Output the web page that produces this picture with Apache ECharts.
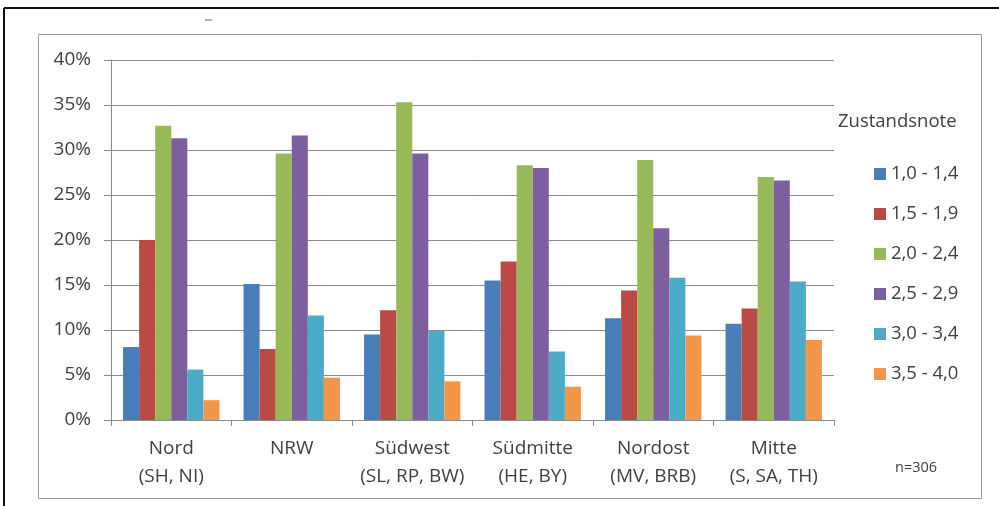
<!DOCTYPE html>
<html>
<head>
<meta charset="utf-8">
<script src="https://cdn.jsdelivr.net/npm/echarts@6/dist/echarts.min.js"></script>
<style>
  html, body { margin: 0; padding: 0; background: #ffffff; }
  #chart { width: 999px; height: 506px; }
</style>
</head>
<body>
<div id="chart"></div>
<script>
// Regions (with federal states) on the x axis
const regions = [
  'Nord\n(SH, NI)',
  'NRW',
  'Südwest\n(SL, RP, BW)',
  'Südmitte\n(HE, BY)',
  'Nordost\n(MV, BRB)',
  'Mitte\n(S, SA, TH)'
];

// Condition grade classes (legend entries)
const grades = ['1,0 - 1,4', '1,5 - 1,9', '2,0 - 2,4', '2,5 - 2,9', '3,0 - 3,4', '3,5 - 4,0'];

// Share of roads per grade class, in percent, one value per region
const grade10to14 = [8.1, 15.1, 9.5, 15.5, 11.3, 10.7];
const grade15to19 = [20.0, 7.9, 12.2, 17.6, 14.4, 12.4];
const grade20to24 = [32.7, 29.6, 35.3, 28.3, 28.9, 27.0];
const grade25to29 = [31.3, 31.6, 29.6, 28.0, 21.3, 26.6];
const grade30to34 = [5.6, 11.6, 9.9, 7.6, 15.8, 15.4];
const grade35to40 = [2.2, 4.7, 4.3, 3.7, 9.4, 8.9];

// Y axis ticks (percent)
const yMin = 0, yMax = 40, yStep = 5;

const seriesValues = [grade10to14, grade15to19, grade20to24, grade25to29, grade30to34, grade35to40];
const colors = ['#4A7EB8', '#BA4A46', '#97BA59', '#7D5FA0', '#4BABC6', '#F49649'];

const font = '"Open Sans", "DejaVu Sans", sans-serif';
const textColor = '#404040';
const gridColor = '#8c8c8c';

const chart = echarts.init(document.getElementById('chart'), null, { renderer: 'canvas' });

chart.setOption({
  animation: false,
  backgroundColor: '#ffffff',
  color: colors,
  textStyle: { fontFamily: font, color: textColor },
  grid: { left: 111, right: 165, top: 60, bottom: 86, containLabel: false },
  legend: {
    data: grades,
    orient: 'vertical',
    left: 869,
    top: 159,
    itemWidth: 12,
    itemHeight: 12,
    itemGap: 20,
    icon: 'rect',
    selectedMode: false,
    textStyle: { fontFamily: font, fontSize: 18.5, color: textColor, lineHeight: 20 }
  },
  xAxis: {
    type: 'category',
    data: regions,
    axisLine: { show: true, lineStyle: { color: gridColor, width: 1 } },
    axisTick: { show: true, length: 6, lineStyle: { color: gridColor } },
    axisLabel: {
      interval: 0,
      margin: 15,
      fontFamily: font,
      fontSize: 19,
      lineHeight: 28,
      color: textColor
    },
    splitLine: { show: false }
  },
  yAxis: {
    type: 'value',
    min: yMin,
    max: yMax,
    interval: yStep,
    axisLine: { show: true, lineStyle: { color: gridColor, width: 1 } },
    axisTick: { show: true, length: 7, lineStyle: { color: gridColor } },
    axisLabel: {
      margin: 20,
      fontFamily: font,
      fontSize: 19,
      color: textColor,
      formatter: '{value}%'
    },
    splitLine: { show: true, lineStyle: { color: gridColor, width: 1 } }
  },
  series: grades.map((name, i) => ({
    name: name,
    type: 'bar',
    data: seriesValues[i],
    barGap: '0%',
    barCategoryGap: '20%',
    itemStyle: { color: colors[i] }
  })),
  graphic: [
    // outer page border (top and left)
    { type: 'line', shape: { x1: 4, y1: 8, x2: 999, y2: 8 }, style: { stroke: '#111111', lineWidth: 2 }, silent: true },
    { type: 'line', shape: { x1: 4, y1: 8, x2: 4, y2: 506 }, style: { stroke: '#111111', lineWidth: 2 }, silent: true },
    // chart area frame
    { type: 'rect', shape: { x: 38.5, y: 34.5, width: 943, height: 464 }, style: { fill: 'none', stroke: '#9a9a9a', lineWidth: 1 }, silent: true, z: -1 },
    // small mark above the chart frame
    { type: 'line', shape: { x1: 205, y1: 20, x2: 212, y2: 20 }, style: { stroke: '#9a9a9a', lineWidth: 1.5 }, silent: true },
    // legend title
    { type: 'text', left: 838, top: 112, style: { text: 'Zustandsnote', fontFamily: font, fontSize: 18.5, fill: textColor }, silent: true },
    // sample size
    { type: 'text', left: 895, top: 460, style: { text: 'n=306', fontFamily: font, fontSize: 14.5, fill: textColor }, silent: true }
  ]
});
</script>
</body>
</html>
